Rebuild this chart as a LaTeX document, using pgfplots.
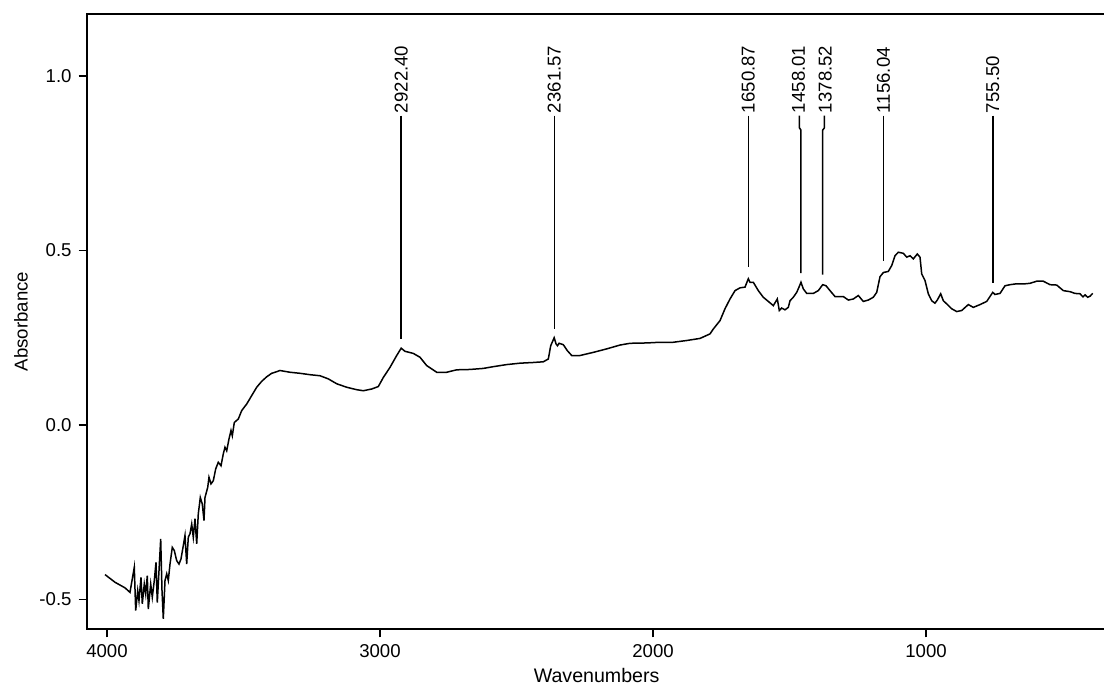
\documentclass[border=0pt]{standalone}
\usepackage{pgfplots}
\pgfplotsset{compat=1.18}
\usepackage{fontspec}
\setmainfont{Liberation Sans}
\begin{document}
\begin{tikzpicture}[font=\fontsize{9.3bp}{11bp}\selectfont]
\begin{axis}[
  scale only axis, width=509.6bp, height=307.5bp,
  x dir=reverse, xmin=340, xmax=4073.3, ymin=-0.585, ymax=1.178,
  axis line style={line width=1bp, black},
  tick style={black, line width=0.8bp},
  tick align=outside, major tick length=4.2bp,
  xtick pos=bottom, ytick pos=left,
  xtick={4000,3000,2000,1000}, xticklabels={4000,3000,2000,1000},
  ytick={-0.5,0,0.5,1}, yticklabels={-0.5,0.0,0.5,1.0},
  xlabel={Wavenumbers}, ylabel={Absorbance},
  xlabel style={at={(axis description cs:0.5,-0.0764)}, anchor=center, font=\fontsize{9.8bp}{11bp}\selectfont},
  ylabel style={at={(axis description cs:-0.0648,0.5)}, anchor=center},
]
\addplot[black, line width=0.75bp, mark=none] coordinates {
(4007.3,-0.429) (3970.7,-0.451) (3934.1,-0.467) (3915.8,-0.480) (3900.0,-0.408)
(3894.9,-0.532) (3887.5,-0.475) (3882.8,-0.504) (3875.5,-0.437) (3870.7,-0.513)
(3863.4,-0.456) (3858.2,-0.485) (3852.4,-0.432) (3848.7,-0.528) (3839.9,-0.456)
(3834.1,-0.494) (3826.7,-0.446) (3820.5,-0.394) (3815.8,-0.509) (3809.5,-0.418)
(3803.3,-0.327) (3798.5,-0.475) (3793.8,-0.556) (3787.5,-0.446) (3781.3,-0.427)
(3775.5,-0.446) (3769.2,-0.399) (3760.8,-0.351) (3753.5,-0.360) (3744.7,-0.389)
(3736.3,-0.399) (3728.9,-0.384) (3720.5,-0.346) (3714.3,-0.317) (3708.1,-0.399)
(3702.2,-0.322) (3696.0,-0.312) (3689.7,-0.284) (3683.9,-0.322) (3677.7,-0.269)
(3671.4,-0.341) (3665.6,-0.255) (3658.2,-0.208) (3650.9,-0.227) (3644.7,-0.274)
(3641.0,-0.208) (3631.1,-0.179) (3626.4,-0.150) (3619.1,-0.169) (3610.6,-0.160)
(3601.8,-0.126) (3592.3,-0.107) (3582.4,-0.117) (3574.0,-0.083) (3567.8,-0.064)
(3561.5,-0.074) (3553.1,-0.040) (3545.8,-0.016) (3541.0,-0.031) (3533.7,0.007)
(3519.0,0.017) (3506.6,0.041) (3488.3,0.060) (3470.0,0.084) (3451.7,0.108)
(3433.3,0.125) (3415.0,0.138) (3396.7,0.148) (3384.6,0.151) (3366.3,0.156)
(3329.7,0.151) (3293.0,0.148) (3256.4,0.144) (3219.8,0.141) (3189.4,0.132)
(3158.6,0.118) (3122.0,0.108) (3085.3,0.101) (3061.2,0.098) (3030.4,0.103)
(3006.2,0.110) (2987.9,0.136) (2963.4,0.165) (2938.8,0.199) (2922.4,0.220)
(2908.4,0.211) (2878.0,0.205) (2853.5,0.194) (2828.9,0.170) (2792.3,0.151)
(2755.7,0.151) (2719.1,0.158) (2670.3,0.159) (2621.6,0.162) (2585.0,0.167)
(2535.9,0.173) (2487.2,0.177) (2438.5,0.179) (2401.8,0.181) (2383.5,0.189)
(2374.7,0.227) (2362.0,0.250) (2355.0,0.232) (2350.0,0.227) (2344.0,0.234)
(2328.6,0.230) (2313.9,0.213) (2297.8,0.199) (2267.4,0.199) (2218.7,0.208)
(2169.6,0.218) (2120.9,0.229) (2084.3,0.234) (2023.1,0.235) (1974.4,0.237)
(1925.6,0.237) (1876.6,0.242) (1827.8,0.248) (1791.2,0.261) (1779.1,0.275)
(1754.6,0.299) (1736.3,0.333) (1718.0,0.361) (1699.6,0.385) (1681.3,0.393)
(1663.0,0.395) (1650.9,0.419) (1644.7,0.409) (1632.6,0.409) (1614.3,0.385)
(1596.0,0.366) (1577.6,0.354) (1559.3,0.342) (1544.7,0.361) (1537.4,0.328)
(1528.6,0.335) (1516.5,0.330) (1504.4,0.337) (1498.2,0.356) (1486.1,0.366)
(1473.6,0.380) (1464.1,0.397) (1458.0,0.409) (1449.4,0.390) (1437.0,0.377)
(1412.8,0.377) (1394.5,0.385) (1378.5,0.402) (1366.3,0.399) (1351.7,0.385)
(1333.3,0.368) (1302.9,0.368) (1284.6,0.358) (1266.3,0.361) (1248.0,0.371)
(1229.7,0.354) (1211.4,0.358) (1193.1,0.366) (1180.6,0.380) (1168.5,0.425)
(1156.0,0.437) (1138.1,0.440) (1125.6,0.457) (1113.6,0.485) (1101.5,0.495)
(1083.1,0.492) (1070.7,0.481) (1058.6,0.485) (1046.5,0.476) (1031.9,0.490)
(1022.0,0.481) (1015.8,0.433) (1003.7,0.414) (991.6,0.376) (979.1,0.356)
(967.2,0.349) (958.6,0.358) (946.2,0.376) (936.6,0.356) (924.2,0.347)
(905.9,0.333) (887.6,0.325) (869.2,0.328) (845.1,0.345) (826.7,0.337)
(802.2,0.345) (777.7,0.354) (755.5,0.380) (747.3,0.374) (728.9,0.377)
(710.6,0.399) (692.3,0.402) (674.0,0.404) (643.6,0.404) (619.1,0.406)
(594.5,0.412) (570.3,0.412) (545.8,0.402) (521.3,0.401) (497.1,0.385)
(472.5,0.382) (454.2,0.377) (435.9,0.376) (425.0,0.367) (417.6,0.373)
(408.0,0.366) (399.3,0.369) (389.4,0.377)
};
% peak markers
\draw[black, line width=0.75bp] (axis cs:2922.40,0.887) -- (axis cs:2922.40,0.247);
\draw[black, line width=0.75bp] (axis cs:2361.57,0.887) -- (axis cs:2361.57,0.276);
\draw[black, line width=0.75bp] (axis cs:1650.87,0.887) -- (axis cs:1650.87,0.452);
\draw[black, line width=0.75bp] (axis cs:1464,0.887) -- (axis cs:1464,0.852) -- (axis cs:1458.01,0.845) -- (axis cs:1458.01,0.435);
\draw[black, line width=0.75bp] (axis cs:1372,0.887) -- (axis cs:1372,0.852) -- (axis cs:1378.52,0.845) -- (axis cs:1378.52,0.431);
\draw[black, line width=0.75bp] (axis cs:1156.04,0.887) -- (axis cs:1156.04,0.469);
\draw[black, line width=0.75bp] (axis cs:755.50,0.887) -- (axis cs:755.50,0.406);
\node[rotate=90, anchor=west, inner sep=0pt] at (axis cs:2922.40,0.893) {2922.40};
\node[rotate=90, anchor=west, inner sep=0pt] at (axis cs:2361.57,0.893) {2361.57};
\node[rotate=90, anchor=west, inner sep=0pt] at (axis cs:1650.87,0.893) {1650.87};
\node[rotate=90, anchor=west, inner sep=0pt] at (axis cs:1467,0.893) {1458.01};
\node[rotate=90, anchor=west, inner sep=0pt] at (axis cs:1369,0.893) {1378.52};
\node[rotate=90, anchor=west, inner sep=0pt] at (axis cs:1156.04,0.893) {1156.04};
\node[rotate=90, anchor=west, inner sep=0pt] at (axis cs:755.50,0.893) {755.50};
\end{axis}
\pgfresetboundingbox
\useasboundingbox (-43.5bp,-28.5bp) rectangle (508.5bp,314.5bp);
\end{tikzpicture}
\end{document}
